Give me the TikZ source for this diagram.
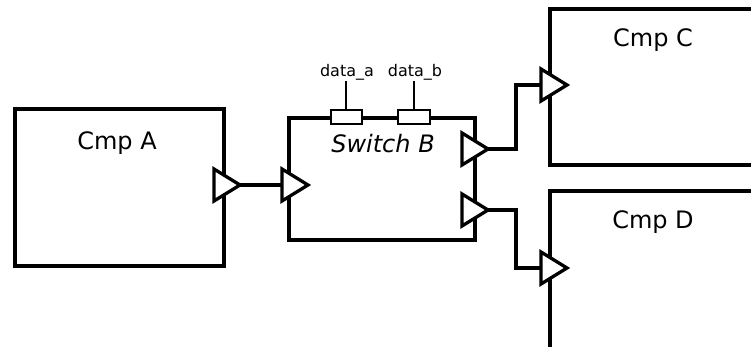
\documentclass[tikz,border=0pt]{standalone}
\usepackage{fontspec}
\setmainfont{DejaVu Sans}
\begin{document}
\begin{tikzpicture}[x=1pt,y=-1pt,
  wire/.style={line width=3.3pt,line join=miter},
  port/.style={line width=3.3pt,fill=white,line join=miter},
  big/.style={font=\fontsize{24}{28}\selectfont,anchor=base,inner sep=0pt},
  small/.style={font=\fontsize{16}{19}\selectfont,anchor=base,inner sep=0pt},
  pin/.style={line width=1.6pt,fill=white}]
\useasboundingbox (0,0) rectangle (751,347);
\clip (0,0) rectangle (751,347);
% boxes
\draw[wire] (15,109) rectangle (224,266);
\draw[wire] (289,118) rectangle (475,240);
\draw[wire] (770,9) -- (550,9) -- (550,165) -- (770,165);
\draw[wire] (770,191) -- (550,191) -- (550,360);
% labels
\node[big] (la) at (117,150) {Cmp A};
\node[big] (lb) at (383,153) {\itshape Switch B};
\node[big] (lc) at (653,47) {Cmp C};
\node[big] (ld) at (653,228) {Cmp D};
% data pins
\draw[line width=1.8pt] (346,110) -- (346,81);
\draw[line width=1.8pt] (414,110) -- (414,81);
\draw[pin] (331,110) rectangle (362,124);
\draw[pin] (398,110) rectangle (430,124);
\node[small] (da) at (347,77) {data\_a};
\node[small] (db) at (415,77) {data\_b};
% port coordinates
\coordinate (pa) at (240,185);
\coordinate (pbin) at (282,185);
\coordinate (pb1) at (488,149);
\coordinate (pb2) at (488,210);
\coordinate (pcin) at (541,85);
\coordinate (pdin) at (541,268);
% connectors
\draw[wire] (pa) -- (pbin);
\draw[wire] (pb1) -- (516,149) -- (516,85) -- (pcin);
\draw[wire] (pb2) -- (516,210) -- (516,268) -- (pdin);
% triangles
\draw[port] (214,169) -- (240,185) -- (214,201) -- cycle;
\draw[port] (282,169) -- (308,185) -- (282,201) -- cycle;
\draw[port] (462,133) -- (488,149) -- (462,165) -- cycle;
\draw[port] (462,194) -- (488,210) -- (462,226) -- cycle;
\draw[port] (541,69) -- (567,85) -- (541,101) -- cycle;
\draw[port] (541,252) -- (567,268) -- (541,284) -- cycle;
\end{tikzpicture}
\end{document}
